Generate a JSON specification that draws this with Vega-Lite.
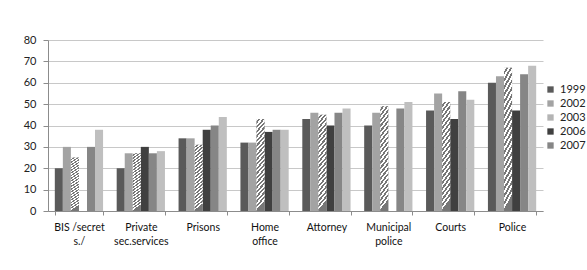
{
  "$schema": "https://vega.github.io/schema/vega-lite/v6.json",
  "width": 495,
  "height": 171,
  "autosize": "none",
  "padding": {"left": 48, "top": 40, "right": 44, "bottom": 59},
  "background": "white",
  "config": {
    "view": {"stroke": null},
    "font": "Lato"
  },
  "data": {
    "values": [
      {"cat": "BIS /secret s./", "year": "1999", "value": 20},
      {"cat": "BIS /secret s./", "year": "2002", "value": 30},
      {"cat": "BIS /secret s./", "year": "2003", "value": 25},
      {"cat": "BIS /secret s./", "year": "2007", "value": 30},
      {"cat": "BIS /secret s./", "year": "2008", "value": 38},
      {"cat": "Private sec.services", "year": "1999", "value": 20},
      {"cat": "Private sec.services", "year": "2002", "value": 27},
      {"cat": "Private sec.services", "year": "2003", "value": 27},
      {"cat": "Private sec.services", "year": "2006", "value": 30},
      {"cat": "Private sec.services", "year": "2007", "value": 27},
      {"cat": "Private sec.services", "year": "2008", "value": 28},
      {"cat": "Prisons", "year": "1999", "value": 34},
      {"cat": "Prisons", "year": "2002", "value": 34},
      {"cat": "Prisons", "year": "2003", "value": 31},
      {"cat": "Prisons", "year": "2006", "value": 38},
      {"cat": "Prisons", "year": "2007", "value": 40},
      {"cat": "Prisons", "year": "2008", "value": 44},
      {"cat": "Home office", "year": "1999", "value": 32},
      {"cat": "Home office", "year": "2002", "value": 32},
      {"cat": "Home office", "year": "2003", "value": 43},
      {"cat": "Home office", "year": "2006", "value": 37},
      {"cat": "Home office", "year": "2007", "value": 38},
      {"cat": "Home office", "year": "2008", "value": 38},
      {"cat": "Attorney", "year": "1999", "value": 43},
      {"cat": "Attorney", "year": "2002", "value": 46},
      {"cat": "Attorney", "year": "2003", "value": 45},
      {"cat": "Attorney", "year": "2006", "value": 40},
      {"cat": "Attorney", "year": "2007", "value": 46},
      {"cat": "Attorney", "year": "2008", "value": 48},
      {"cat": "Municipal police", "year": "1999", "value": 40},
      {"cat": "Municipal police", "year": "2002", "value": 46},
      {"cat": "Municipal police", "year": "2003", "value": 49},
      {"cat": "Municipal police", "year": "2007", "value": 48},
      {"cat": "Municipal police", "year": "2008", "value": 51},
      {"cat": "Courts", "year": "1999", "value": 47},
      {"cat": "Courts", "year": "2002", "value": 55},
      {"cat": "Courts", "year": "2003", "value": 51},
      {"cat": "Courts", "year": "2006", "value": 43},
      {"cat": "Courts", "year": "2007", "value": 56},
      {"cat": "Courts", "year": "2008", "value": 52},
      {"cat": "Police", "year": "1999", "value": 60},
      {"cat": "Police", "year": "2002", "value": 63},
      {"cat": "Police", "year": "2003", "value": 67},
      {"cat": "Police", "year": "2006", "value": 47},
      {"cat": "Police", "year": "2007", "value": 64},
      {"cat": "Police", "year": "2008", "value": 68}
    ]
  },
  "encoding": {
    "x": {
      "field": "cat",
      "type": "nominal",
      "sort": null,
      "scale": {"paddingInner": 0.22, "paddingOuter": 0.11},
      "axis": {
        "title": null,
        "labelAngle": 0,
        "labelFontSize": 10.5,
        "labelColor": "#111111",
        "labelPadding": 7,
        "labelLineHeight": 14,
        "labelExpr": "datum.label == 'BIS /secret s./' ? ['BIS /secret\u2002\u2002\u2002\u2002\u2002\u2002', 's./\u2002\u2002\u2002\u2002\u2002\u2002\u2002'] : datum.label == 'Home office' ? ['Home\u2002\u2002', 'office\u2002\u2002'] : split(datum.label, ' ')",
        "tickBand": "extent",
        "tickSize": 4,
        "tickColor": "#8c8c8c",
        "domainColor": "#8c8c8c",
        "grid": false
      }
    },
    "xOffset": {
      "field": "year",
      "type": "nominal",
      "scale": {"domain": ["1999", "2002", "2003", "2006", "2007", "2008"], "paddingInner": 0, "paddingOuter": 0}
    },
    "y": {
      "field": "value",
      "type": "quantitative",
      "scale": {"domain": [0, 80], "nice": false},
      "axis": {
        "title": null,
        "values": [0, 10, 20, 30, 40, 50, 60, 70, 80],
        "labelFontSize": 11,
        "labelColor": "#222222",
        "labelPadding": 7,
        "tickSize": 5,
        "tickColor": "#8c8c8c",
        "domainColor": "#8c8c8c",
        "gridColor": "#c8c8c8"
      }
    }
  },
  "layer": [
    {
      "mark": {"type": "bar"},
      "encoding": {
        "color": {
          "field": "year",
          "type": "nominal",
          "scale": {
            "domain": ["1999", "2002", "2003", "2006", "2007", "2008"],
            "range": ["#5a5a5a", "#a3a3a3", "#b4b4b4", "#404040", "#868686", "#bfbfbf"]
          },
          "legend": {
            "title": null,
            "values": ["1999", "2002", "2003", "2006", "2007"],
            "orient": "none",
            "legendX": 497,
            "legendY": 44,
            "symbolType": "square",
            "symbolSize": 40,
            "symbolStrokeWidth": 0,
            "labelFontSize": 11,
            "labelColor": "#222222",
            "labelOffset": 4,
            "rowPadding": 2
          }
        }
      }
    },
    {
      "transform": [{"filter": "datum.year == '2003'"}],
      "mark": {
        "type": "bar",
        "fill": {
          "gradient": "linear",
          "x1": 0, "y1": 0, "x2": 0.1, "y2": 1,
          "stops": [
            {"offset": 0, "color": "#ffffff"}, {"offset": 0.025, "color": "#ffffff"}, {"offset": 0.025, "color": "#777777"}, {"offset": 0.05, "color": "#777777"},
            {"offset": 0.05, "color": "#ffffff"}, {"offset": 0.075, "color": "#ffffff"}, {"offset": 0.075, "color": "#777777"}, {"offset": 0.1, "color": "#777777"},
            {"offset": 0.1, "color": "#ffffff"}, {"offset": 0.125, "color": "#ffffff"}, {"offset": 0.125, "color": "#777777"}, {"offset": 0.15, "color": "#777777"},
            {"offset": 0.15, "color": "#ffffff"}, {"offset": 0.175, "color": "#ffffff"}, {"offset": 0.175, "color": "#777777"}, {"offset": 0.2, "color": "#777777"},
            {"offset": 0.2, "color": "#ffffff"}, {"offset": 0.225, "color": "#ffffff"}, {"offset": 0.225, "color": "#777777"}, {"offset": 0.25, "color": "#777777"},
            {"offset": 0.25, "color": "#ffffff"}, {"offset": 0.275, "color": "#ffffff"}, {"offset": 0.275, "color": "#777777"}, {"offset": 0.3, "color": "#777777"},
            {"offset": 0.3, "color": "#ffffff"}, {"offset": 0.325, "color": "#ffffff"}, {"offset": 0.325, "color": "#777777"}, {"offset": 0.35, "color": "#777777"},
            {"offset": 0.35, "color": "#ffffff"}, {"offset": 0.375, "color": "#ffffff"}, {"offset": 0.375, "color": "#777777"}, {"offset": 0.4, "color": "#777777"},
            {"offset": 0.4, "color": "#ffffff"}, {"offset": 0.425, "color": "#ffffff"}, {"offset": 0.425, "color": "#777777"}, {"offset": 0.45, "color": "#777777"},
            {"offset": 0.45, "color": "#ffffff"}, {"offset": 0.475, "color": "#ffffff"}, {"offset": 0.475, "color": "#777777"}, {"offset": 0.5, "color": "#777777"},
            {"offset": 0.5, "color": "#ffffff"}, {"offset": 0.525, "color": "#ffffff"}, {"offset": 0.525, "color": "#777777"}, {"offset": 0.55, "color": "#777777"},
            {"offset": 0.55, "color": "#ffffff"}, {"offset": 0.575, "color": "#ffffff"}, {"offset": 0.575, "color": "#777777"}, {"offset": 0.6, "color": "#777777"},
            {"offset": 0.6, "color": "#ffffff"}, {"offset": 0.625, "color": "#ffffff"}, {"offset": 0.625, "color": "#777777"}, {"offset": 0.65, "color": "#777777"},
            {"offset": 0.65, "color": "#ffffff"}, {"offset": 0.675, "color": "#ffffff"}, {"offset": 0.675, "color": "#777777"}, {"offset": 0.7, "color": "#777777"},
            {"offset": 0.7, "color": "#ffffff"}, {"offset": 0.725, "color": "#ffffff"}, {"offset": 0.725, "color": "#777777"}, {"offset": 0.75, "color": "#777777"},
            {"offset": 0.75, "color": "#ffffff"}, {"offset": 0.775, "color": "#ffffff"}, {"offset": 0.775, "color": "#777777"}, {"offset": 0.8, "color": "#777777"},
            {"offset": 0.8, "color": "#ffffff"}, {"offset": 0.825, "color": "#ffffff"}, {"offset": 0.825, "color": "#777777"}, {"offset": 0.85, "color": "#777777"},
            {"offset": 0.85, "color": "#ffffff"}, {"offset": 0.875, "color": "#ffffff"}, {"offset": 0.875, "color": "#777777"}, {"offset": 0.9, "color": "#777777"},
            {"offset": 0.9, "color": "#ffffff"}, {"offset": 0.925, "color": "#ffffff"}, {"offset": 0.925, "color": "#777777"}, {"offset": 0.95, "color": "#777777"},
            {"offset": 0.95, "color": "#ffffff"}, {"offset": 0.975, "color": "#ffffff"}, {"offset": 0.975, "color": "#777777"}, {"offset": 1, "color": "#777777"}
          ]
        }
      }
    }
  ]
}
